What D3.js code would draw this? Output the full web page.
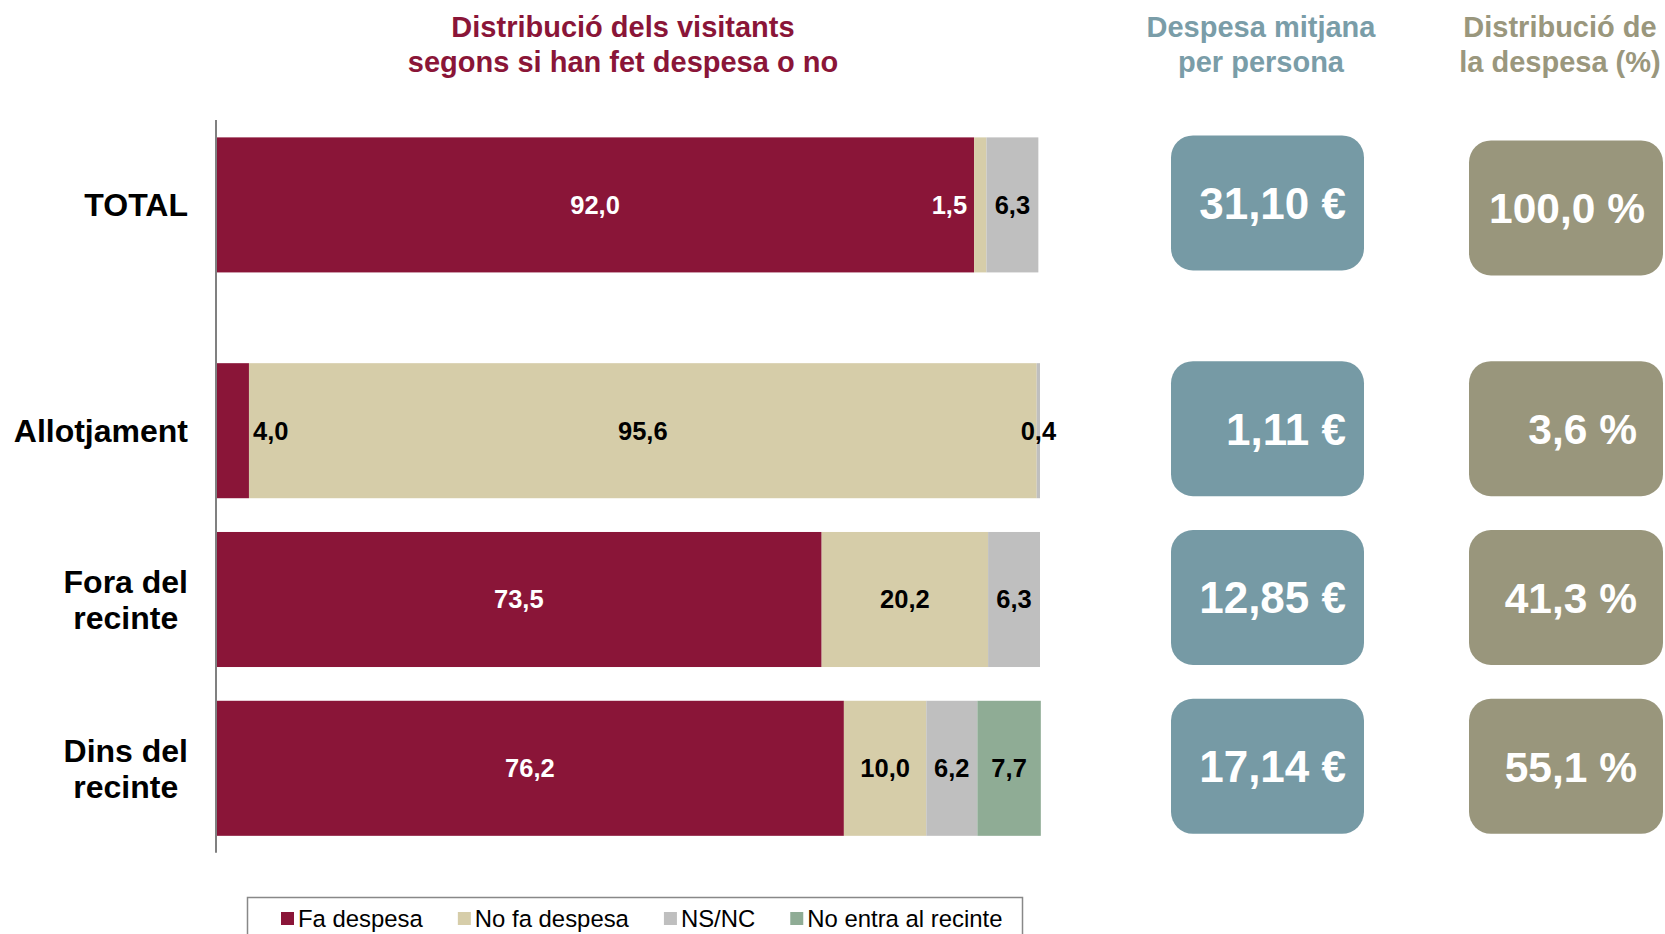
<!DOCTYPE html>
<html>
<head>
<meta charset="utf-8">
<script src="https://cdn.jsdelivr.net/npm/d3@7"></script>
<style>
  html, body { margin: 0; padding: 0; background: #fff; }
  svg { display: block; font-family: "Liberation Sans", Arial, sans-serif; }
</style>
</head>
<body>
<script>
  // data
  const categories   = ["TOTAL", "Allotjament", "Fora del recinte", "Dins del recinte"];
  const catLines     = [["TOTAL"], ["Allotjament"], ["Fora del", "recinte"], ["Dins del", "recinte"]];
  const seriesNames  = ["Fa despesa", "No fa despesa", "NS/NC", "No entra al recinte"];
  const faDespesa    = [92.0, 4.0, 73.5, 76.2];
  const noFaDespesa  = [1.5, 95.6, 20.2, 10.0];
  const nsnc         = [6.3, 0.4, 6.3, 6.2];
  const noEntra      = [0, 0, 0, 7.7];
  const despesaMitja = [31.10, 1.11, 12.85, 17.14];
  const distDespesa  = [100.0, 3.6, 41.3, 55.1];

  const W = 1665, H = 934;
  const colors = ["#8A1538", "#D6CDA9", "#BFBFBF", "#8FAC95"];
  const blueBox = "#769AA5", oliveBox = "#99967C";

  const loc = d3.formatLocale({ decimal: ",", thousands: ".", grouping: [3], currency: ["", " €"] });
  const f1 = loc.format(".1f"), f2 = loc.format(".2f");

  const rows = categories.map((c, i) => ({
    cat: c,
    "Fa despesa": faDespesa[i],
    "No fa despesa": noFaDespesa[i],
    "NS/NC": nsnc[i],
    "No entra al recinte": noEntra[i]
  }));

  const x = d3.scaleLinear().domain([0, 100]).range([216, 1040]);
  const yBand = d3.scaleBand().domain(categories).range([177.5, 852.7])
    .paddingInner(0.2).paddingOuter(0.1);
  const totalGap = 57;
  const y = (c) => yBand(c) - (c === "TOTAL" ? totalGap : 0);
  const bh = yBand.bandwidth();

  const svg = d3.select("body").append("svg")
    .attr("width", W).attr("height", H)
    .attr("viewBox", [0, 0, W, H]);

  // titles
  const titles = [
    { lines: ["Distribució dels visitants", "segons si han fet despesa o no"], x: 623, color: "#8A1538" },
    { lines: ["Despesa mitjana", "per persona"], x: 1261, color: "#7A9DA8" },
    { lines: ["Distribució de", "la despesa (%)"], x: 1560, color: "#9A977D" }
  ];
  titles.forEach(t => {
    svg.append("g").selectAll("text").data(t.lines).join("text")
      .attr("x", t.x).attr("y", (d, i) => 37 + i * 35)
      .attr("text-anchor", "middle")
      .attr("font-size", 29).attr("font-weight", "bold")
      .attr("fill", t.color)
      .text(d => d);
  });

  // stacked bars
  const stack = d3.stack().keys(seriesNames)(rows);
  const gBars = svg.append("g");
  stack.forEach((s, si) => {
    gBars.append("g").attr("fill", colors[si])
      .selectAll("rect").data(s.filter(d => d[1] - d[0] > 0)).join("rect")
      .attr("x", d => x(d[0]))
      .attr("y", d => y(d.data.cat))
      .attr("width", d => x(d[1]) - x(d[0]))
      .attr("height", bh);
  });

  // labels on segments
  const placement = { "TOTAL|No fa despesa": "before", "Allotjament|Fa despesa": "after" };
  const gLab = svg.append("g").attr("font-size", 25.5).attr("font-weight", "bold");
  stack.forEach((s, si) => {
    s.filter(d => d[1] - d[0] > 0).forEach(d => {
      const key = d.data.cat + "|" + s.key;
      const p = placement[key];
      let lx = (x(d[0]) + x(d[1])) / 2, anchor = "middle", fill = si === 0 ? "#fff" : "#000";
      if (p === "before") { lx = x(d[0]) - 7; anchor = "end"; fill = "#fff"; }
      if (p === "after")  { lx = x(d[1]) + 4; anchor = "start"; fill = "#000"; }
      gLab.append("text")
        .attr("x", lx).attr("y", y(d.data.cat) + bh / 2)
        .attr("dy", "0.35em")
        .attr("text-anchor", anchor)
        .attr("fill", fill)
        .text(f1(d[1] - d[0]));
    });
  });

  // axis line
  svg.append("line")
    .attr("x1", 216).attr("x2", 216)
    .attr("y1", 120).attr("y2", 852.7)
    .attr("stroke", "#808080").attr("stroke-width", 2);

  // category labels
  const gCat = svg.append("g").attr("font-size", 32).attr("font-weight", "bold").attr("fill", "#000");
  categories.forEach((c, i) => {
    const lines = catLines[i];
    const cy = y(c) + bh / 2;
    const t = gCat.append("g");
    const texts = t.selectAll("text").data(lines).join("text")
      .attr("y", (d, j) => cy + (j - (lines.length - 1) / 2) * 36)
      .attr("dy", "0.36em")
      .attr("text-anchor", "middle")
      .text(d => d);
    const maxW = d3.max(texts.nodes(), n => n.getComputedTextLength());
    texts.attr("x", 188 - maxW / 2);
  });

  // value boxes
  const gBox = svg.append("g");
  categories.forEach((c, i) => {
    const top = y(c) - 2;
    gBox.append("rect")
      .attr("x", 1171).attr("y", top).attr("width", 193).attr("height", bh)
      .attr("rx", 22).attr("fill", blueBox);
    gBox.append("text")
      .attr("x", 1346).attr("y", top + bh / 2).attr("dy", "0.36em")
      .attr("text-anchor", "end").attr("font-size", 44).attr("font-weight", "bold")
      .attr("fill", "#fff").text(f2(despesaMitja[i]) + " €");
    const top2 = y(c) + (c === "TOTAL" ? 3 : -2);
    gBox.append("rect")
      .attr("x", 1469).attr("y", top2).attr("width", 194).attr("height", bh)
      .attr("rx", 22).attr("fill", oliveBox);
    gBox.append("text")
      .attr("x", c === "TOTAL" ? 1645 : 1637).attr("y", top2 + bh / 2).attr("dy", "0.36em")
      .attr("text-anchor", "end").attr("font-size", 42.5).attr("font-weight", "bold")
      .attr("fill", "#fff").text(f1(distDespesa[i]) + " %");
  });

  // legend
  const gLeg = svg.append("g");
  gLeg.append("rect")
    .attr("x", 247.5).attr("y", 897.5).attr("width", 775).attr("height", 60)
    .attr("fill", "#fff").attr("stroke", "#888").attr("stroke-width", 1.5);
  let lx = 281;
  seriesNames.forEach((n, i) => {
    gLeg.append("rect")
      .attr("x", lx).attr("y", 912).attr("width", 13).attr("height", 13)
      .attr("fill", colors[i]);
    const t = gLeg.append("text")
      .attr("x", lx + 17).attr("y", 918.5).attr("dy", "0.36em")
      .attr("font-size", 23.9).attr("fill", "#000").text(n);
    lx += 17 + t.node().getComputedTextLength() + 35;
  });
</script>
</body>
</html>
